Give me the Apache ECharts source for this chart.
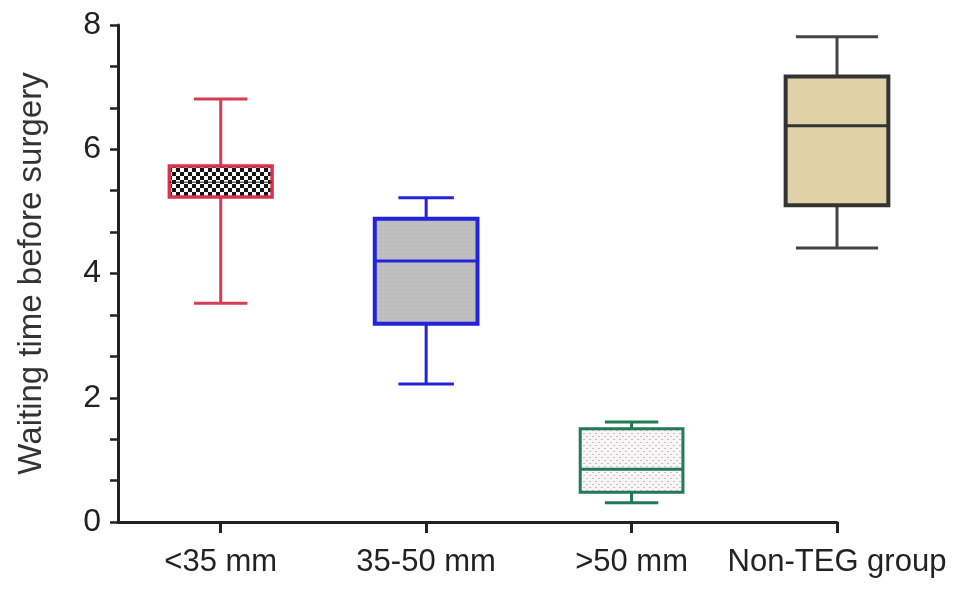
<!DOCTYPE html>
<html>
<head>
<meta charset="utf-8">
<script src="https://cdn.jsdelivr.net/npm/echarts@6/dist/echarts.min.js"></script>
<style>
html,body{margin:0;padding:0;background:#fff;}
#chart{width:969px;height:595px;}
</style>
</head>
<body>
<div id="chart"></div>
<script>
// ---- data ----
const categories = ['<35 mm', '35-50 mm', '>50 mm', 'Non-TEG group'];
const whiskerLow  = [3.52, 2.22, 0.31, 4.41];
const q1          = [5.23, 3.19, 0.48, 5.10];
const median      = [5.47, 4.20, 0.85, 6.38];
const q3          = [5.73, 4.88, 1.50, 7.17];
const whiskerHigh = [6.81, 5.22, 1.61, 7.81];
const yMin = 0, yMax = 8, yInterval = 2;
const yAxisTitle = 'Waiting time before surgery';

// ---- styles ----
function makePattern(w, h, draw) {
  const c = document.createElement('canvas');
  c.width = w; c.height = h;
  const ctx = c.getContext('2d');
  draw(ctx);
  return { image: c, repeat: 'repeat' };
}
const checker = makePattern(8, 8, ctx => {
  ctx.fillStyle = '#ffffff'; ctx.fillRect(0, 0, 8, 8);
  ctx.fillStyle = '#151515'; ctx.fillRect(0, 0, 4, 4); ctx.fillRect(4, 4, 4, 4);
});
const grayDots = makePattern(4, 4, ctx => {
  ctx.fillStyle = '#bfbfbf'; ctx.fillRect(0, 0, 4, 4);
  ctx.fillStyle = '#adadad'; ctx.fillRect(1, 1, 1, 1);
});
const lightDots = makePattern(6, 6, ctx => {
  ctx.fillStyle = '#f7f5f5'; ctx.fillRect(0, 0, 6, 6);
  ctx.fillStyle = '#cdbfc1'; ctx.fillRect(1, 1, 2, 1); ctx.fillRect(4, 4, 2, 1);
});
const styles = [
  { stroke: '#d8324c', whisker: '#d83c55', fill: checker,   medianColor: '#222222', width: 3.5, cap: 0.52 },
  { stroke: '#2323dd', whisker: '#2323dd', fill: grayDots,  medianColor: '#2323dd', width: 4,   cap: 0.54 },
  { stroke: '#237a56', whisker: '#237a56', fill: lightDots, medianColor: '#237a56', width: 3,   cap: 0.52 },
  { stroke: '#333333', whisker: '#444444', fill: '#dfd2a6', medianColor: '#333333', width: 4,   cap: 0.80 }
];

// padded category axis so ticks sit between blanks
const axisCats = [];
categories.forEach(c => { axisCats.push(''); axisCats.push(c); });

const seriesData = categories.map((c, i) => [2 * i + 1, whiskerLow[i], q1[i], median[i], q3[i], whiskerHigh[i], i]);

function renderItem(params, api) {
  const x = api.value(0);
  const idx = api.value(6);
  const st = styles[idx];
  const pLow = api.coord([x, api.value(1)]);
  const pQ1 = api.coord([x, api.value(2)]);
  const pMed = api.coord([x, api.value(3)]);
  const pQ3 = api.coord([x, api.value(4)]);
  const pHigh = api.coord([x, api.value(5)]);
  const step = api.size([1, 0])[0];
  const bw = step * 1.0;
  const half = bw / 2;
  const capHalf = bw * st.cap / 2;
  const cx = pMed[0];
  const lineStyle = { stroke: st.whisker, lineWidth: 3 };
  return {
    type: 'group',
    children: [
      { type: 'line', shape: { x1: cx, y1: pQ3[1], x2: cx, y2: pHigh[1] }, style: lineStyle },
      { type: 'line', shape: { x1: cx, y1: pQ1[1], x2: cx, y2: pLow[1] }, style: lineStyle },
      { type: 'line', shape: { x1: cx - capHalf, y1: pHigh[1], x2: cx + capHalf, y2: pHigh[1] }, style: lineStyle },
      { type: 'line', shape: { x1: cx - capHalf, y1: pLow[1], x2: cx + capHalf, y2: pLow[1] }, style: lineStyle },
      { type: 'rect', shape: { x: cx - half, y: pQ3[1], width: bw, height: pQ1[1] - pQ3[1] },
        style: { fill: st.fill, stroke: st.stroke, lineWidth: st.width } },
      { type: 'line', shape: { x1: cx - half, y1: pMed[1], x2: cx + half, y2: pMed[1] },
        style: { stroke: st.medianColor, lineWidth: idx === 0 ? 1 : 3 } }
    ]
  };
}

const chart = echarts.init(document.getElementById('chart'), null, { renderer: 'canvas' });
chart.setOption({
  backgroundColor: '#ffffff',
  animation: false,
  grid: { left: 118, right: 132, top: 25, bottom: 73, containLabel: false },
  xAxis: {
    type: 'category',
    data: axisCats,
    boundaryGap: false,
    axisLine: { show: true, lineStyle: { color: '#222', width: 3 } },
    axisTick: { show: true, length: 11, interval: (i) => i % 2 === 1, lineStyle: { color: '#222', width: 3 } },
    axisLabel: { show: true, interval: (i) => i % 2 === 1, margin: 25, fontSize: 31,
      fontFamily: 'Liberation Sans', color: '#222' },
    splitLine: { show: false }
  },
  yAxis: {
    type: 'value',
    min: yMin, max: yMax, interval: yInterval,
    name: yAxisTitle,
    nameLocation: 'middle',
    nameGap: 70,
    nameTextStyle: { fontSize: 33, fontFamily: 'Liberation Sans', color: '#333' },
    axisLine: { show: true, lineStyle: { color: '#222', width: 3 } },
    axisTick: { show: true, length: 8, lineStyle: { color: '#222', width: 2.5 } },
    minorTick: { show: true, splitNumber: 3, length: 8, lineStyle: { color: '#222', width: 2.5 } },
    axisLabel: { margin: 17, fontSize: 32, fontFamily: 'Liberation Sans', color: '#222' },
    splitLine: { show: false }
  },
  series: [{
    type: 'custom',
    renderItem: renderItem,
    data: seriesData,
    encode: { x: 0, y: [1, 2, 3, 4, 5] },
    clip: false
  }]
});
</script>
</body>
</html>
